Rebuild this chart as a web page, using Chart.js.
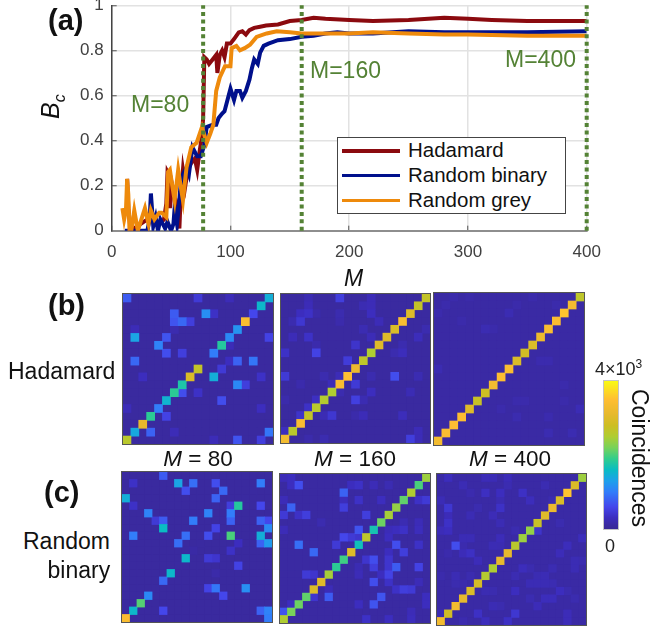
<!DOCTYPE html>
<html>
<head>
<meta charset="utf-8">
<title>Ghost imaging coincidences</title>
<script src="https://cdn.jsdelivr.net/npm/chart.js@4"></script>
<style>
  body { margin: 0; background: #fff; font-family: 'Liberation Sans', Arial, sans-serif; }
  #page { position: relative; width: 652px; height: 631px; overflow: hidden; }
  canvas { position: absolute; }
  .heat { outline: 1.5px solid #555; filter: blur(0.5px); }
  .txt { position: absolute; white-space: nowrap; line-height: 1; }
  .tag { font-weight: bold; font-size: 29px; color: #111; }
  .guide { font-size: 23px; color: #548235; }
  .side { font-size: 23px; color: #111; }
  .cap { font-size: 22.5px; color: #111; transform: translateX(-50%); }
  #legend { position: absolute; left: 337px; top: 137px; width: 229px; height: 77px; box-sizing: border-box;
    border: 1px solid #444; background: #fff; font-size: 20.5px; color: #111; padding-top: 0; }
  #legend div { height: 24.8px; line-height: 24.8px; position: relative; padding-left: 70px; }
  #legend i { position: absolute; left: 4px; top: 11px; width: 58px; height: 3.5px; }
</style>
</head>
<body>
<div id="page">
  <canvas id="lineChart" width="652" height="290" style="left:0;top:0;filter:blur(0.4px)"></canvas>

  <div class="txt tag" style="left:48px;top:6px">(a)</div>
  <div class="txt tag" style="left:48px;top:291px">(b)</div>
  <div class="txt tag" style="left:44px;top:478px">(c)</div>

  <div class="txt" style="left:38px;top:119px;font-size:25px;font-style:italic;color:#111;transform:rotate(-90deg);transform-origin:left top">B<sub style="font-size:16px">c</sub></div>
  <div class="txt" style="left:344px;top:267px;font-size:23px;font-style:italic;color:#111">M</div>

  <div class="txt guide" style="left:131px;top:93px">M=80</div>
  <div class="txt guide" style="left:310px;top:59px">M=160</div>
  <div class="txt guide" style="left:505px;top:48px">M=400</div>

  <div id="legend"></div>

  <div class="txt side" style="left:8px;top:360px">Hadamard</div>
  <div class="txt side" style="left:23px;top:530px">Random</div>
  <div class="txt side" style="left:47.5px;top:559px">binary</div>

  <div class="txt cap" style="left:198px;top:448px"><em>M</em> = 80</div>
  <div class="txt cap" style="left:355px;top:448px"><em>M</em> = 160</div>
  <div class="txt cap" style="left:510px;top:448px"><em>M</em> = 400</div>

  <div class="txt" style="left:595px;top:360px;font-size:18px;color:#222">4×10<sup style="font-size:12px;line-height:0">3</sup></div>
  <div class="txt" style="left:605px;top:537px;font-size:18px;color:#222">0</div>
  <div class="txt" style="left:651px;top:389px;font-size:23px;color:#111;transform:rotate(90deg);transform-origin:left top">Coincidences</div>
</div>

<script>
// (a) line chart
const xTicks = [0, 100, 200, 300, 400];
const yTicks = [0, 0.2, 0.4, 0.6, 0.8, 1];
const seriesNames = ['Hadamard', 'Random binary', 'Random grey'];
const seriesColors = ['#8b0a0f', '#00108c', '#ee8a0c'];
const guideM = [77, 160, 400];

const hadamardM  = [13, 14, 16, 30, 40, 44, 46, 47, 48, 49, 51, 53, 55, 57, 58, 60, 62, 64, 67, 70, 72, 74, 76, 77, 78, 80, 82, 85, 88, 89, 91, 93, 95, 97, 100, 103, 107, 110, 113, 116, 120, 125, 130, 140, 150, 160, 170, 180, 200, 220, 250, 280, 300, 320, 350, 400];
const hadamardBc = [0.23, 0.1, 0, 0.05, 0.03, 0.05, 0.12, 0.26, 0.25, 0.1, 0.2, 0.15, 0.12, 0.01, 0.14, 0.27, 0.2, 0.27, 0.3, 0.32, 0.27, 0.35, 0.42, 0.5, 0.77, 0.76, 0.74, 0.76, 0.78, 0.7, 0.78, 0.8, 0.77, 0.83, 0.83, 0.85, 0.88, 0.885, 0.87, 0.89, 0.9, 0.905, 0.91, 0.915, 0.93, 0.935, 0.945, 0.94, 0.935, 0.93, 0.935, 0.945, 0.94, 0.935, 0.93, 0.93];

const binaryM  = [11, 12, 20, 30, 32, 33, 35, 37, 39, 41, 43, 45, 47, 50, 52, 53, 55, 56, 58, 60, 63, 65, 68, 72, 75, 78, 80, 85, 88, 90, 93, 95, 97, 100, 103, 105, 108, 110, 113, 116, 118, 120, 123, 125, 128, 132, 140, 150, 160, 170, 180, 190, 200, 220, 250, 280, 300, 350, 400];
const binaryBc = [0, 0, 0, 0, 0.05, 0.165, 0.02, 0.06, 0, 0.05, 0.03, 0.01, 0.04, 0, 0.03, 0.1, 0.03, 0.08, 0.2, 0.25, 0.28, 0.25, 0.37, 0.33, 0.33, 0.38, 0.46, 0.47, 0.47, 0.5, 0.52, 0.53, 0.57, 0.63, 0.58, 0.62, 0.62, 0.59, 0.62, 0.67, 0.72, 0.76, 0.74, 0.79, 0.82, 0.83, 0.845, 0.85, 0.86, 0.865, 0.875, 0.88, 0.875, 0.875, 0.885, 0.88, 0.88, 0.88, 0.885];

const greyM  = [9, 10.5, 12, 13, 14, 15, 16.5, 19, 22, 25, 28, 31, 33, 36, 40, 42, 46, 47.5, 49, 51, 53, 56, 58, 60, 63, 67, 71.5, 76, 80, 83, 85.6, 88, 91, 95.4, 100, 101, 105, 108, 112, 116.5, 122, 130.5, 139, 150, 160, 180, 200, 220, 250, 280, 300, 350, 400];
const greyBc = [0.1, 0.05, 0.09, 0.23, 0.16, 0, 0, 0.09, 0, 0.05, 0.1, 0.03, 0.09, 0.05, 0.08, 0.08, 0.06, 0.26, 0.27, 0.2, 0.135, 0.27, 0.2, 0.135, 0.28, 0.37, 0.39, 0.46, 0.39, 0.43, 0.47, 0.62, 0.68, 0.73, 0.73, 0.81, 0.82, 0.8, 0.81, 0.825, 0.86, 0.875, 0.885, 0.88, 0.875, 0.875, 0.875, 0.88, 0.875, 0.87, 0.87, 0.865, 0.865];

// (b) Hadamard matrices, 19 x 19. Off lists are [col, row from top, counts]
const hadamard80Diag = [2600, 1400, 3100, 1850, 1000, 1500, 1850, 1750, 2950, 2700, 100, 1000, 1800, 1100, 1200, 3400, 600, 1550, 1450];
const hadamard80Off = [[0,0,750],[9,0,450],[13,0,250],[6,2,750],[10,2,1150],[11,2,350],[6,3,700],[7,3,850],[8,3,500],[1,4,250],[6,4,200],[1,5,1350],[5,5,700],[18,5,550],[4,6,1050],[13,6,250],[5,7,650],[7,7,500],[1,8,850],[13,8,300],[14,8,800],[16,8,950],[12,9,450],[2,10,300],[11,10,1450],[17,10,350],[14,11,1100],[15,11,500],[7,12,650],[9,12,350],[12,13,650],[0,14,250],[17,14,300],[5,15,550],[3,17,800],[6,17,250],[18,17,950],[11,18,250],[14,18,700],[17,18,500]];

const hadamard160Diag = [3300, 2600, 3400, 2700, 2600, 2550, 2500, 3400, 3500, 3200, 2650, 2500, 3000, 3000, 2950, 3400, 3000, 2700, 2700];
const hadamard160Off = [[7,0,500],[3,0,220],[11,0,250],[3,1,250],[10,1,220],[11,1,250],[2,2,300],[3,2,350],[11,2,300],[7,2,200],[4,2,160],[1,3,200],[2,3,420],[12,3,250],[7,3,180],[10,4,220],[18,4,200],[1,5,250],[3,5,350],[11,5,250],[17,5,270],[4,6,180],[9,6,380],[15,6,200],[0,7,350],[4,7,550],[15,7,280],[14,7,200],[8,8,480],[0,10,450],[5,10,200],[7,10,250],[11,10,200],[14,10,650],[17,10,220],[9,11,450],[2,11,180],[6,11,250],[11,12,300],[16,12,230],[7,12,200],[4,13,320],[9,13,520],[10,13,220],[0,13,170],[3,14,350],[2,15,380],[5,15,230],[6,15,420],[9,15,170],[10,15,250],[15,15,270],[0,17,300],[17,17,250],[3,18,170],[5,18,200],[16,18,500],[17,18,250]];

const hadamard400Diag = [3300, 3400, 3500, 3450, 3000, 2750, 2800, 3300, 3450, 3400, 2950, 2850, 2950, 3200, 3400, 3450, 3550, 3300, 2650];
const hadamard400Off = [[1,1,180],[2,0,170],[0,2,180],[3,3,170],[6,4,220],[9,2,220],[0,9,210],[18,14,240],[16,11,180],[10,13,180],[11,13,180],[14,15,190],[10,15,200],[8,14,180],[17,17,210],[14,17,210],[13,8,190],[14,8,190],[15,1,180],[12,0,170],[7,4,170],[4,0,160],[10,1,170],[16,13,170]];

// (c) Random binary matrices, 20 x 20
const binary80Diag = [3400, 1550, 2050, 1100, 100, 850, 1550, 100, 1550, 130, 100, 650, 550, 100, 1000, 1800, 100, 100, 1000, 100];
const binary80Off = [[5,0,750],[1,1,350],[7,1,1350],[9,1,900],[12,1,650],[8,2,650],[13,2,850],[0,3,1450],[12,3,800],[1,4,350],[14,4,500],[18,4,600],[3,5,1050],[11,5,1050],[4,6,450],[5,6,750],[9,6,1000],[14,6,800],[18,6,800],[19,6,600],[5,7,1600],[19,7,1100],[1,8,1000],[8,8,900],[14,8,2000],[18,8,1450],[7,9,900],[15,9,300],[18,9,800],[19,9,1250],[14,10,350],[11,11,450],[12,11,400],[15,12,550],[12,13,160],[11,15,550],[12,15,950],[16,15,1150],[13,16,600],[5,18,600],[18,18,800],[19,18,1050],[19,19,1000]];

const binary160Diag = [2500, 2200, 2150, 2100, 2950, 3000, 2450, 1850, 1950, 3000, 1650, 2650, 1700, 2150, 2450, 2350, 2100, 2500, 2000, 2400];
const binary160Off = [[0,0,250],[1,0,300],[1,1,300],[2,1,650],[9,1,300],[10,1,350],[12,1,250],[14,1,220],[8,2,800],[0,3,250],[8,3,280],[10,3,350],[13,3,300],[18,3,350],[19,3,450],[1,4,800],[8,4,500],[0,5,450],[2,5,350],[3,5,500],[11,5,500],[5,6,200],[18,6,250],[16,6,220],[0,7,250],[10,7,700],[15,7,300],[16,7,350],[18,7,280],[14,7,250],[8,8,600],[9,8,450],[10,8,400],[14,8,300],[2,9,900],[7,9,450],[15,9,650],[18,9,350],[4,10,850],[16,10,500],[14,10,300],[11,11,400],[12,11,650],[14,11,400],[12,12,500],[14,12,400],[15,12,750],[18,12,550],[10,12,220],[3,13,450],[4,13,400],[10,13,250],[13,13,300],[14,13,550],[12,14,650],[14,14,350],[18,14,250],[6,15,250],[15,15,350],[16,15,500],[17,15,450],[4,16,400],[6,16,750],[13,16,700],[19,16,300],[1,17,300],[10,17,300],[12,17,700],[19,17,300],[0,18,700],[17,18,250],[11,19,350],[14,19,300],[17,19,280]];

const binary400Diag = [3300, 2850, 3300, 3100, 2950, 2900, 2550, 2500, 3100, 3100, 2600, 2400, 2350, 2750, 3000, 3200, 2950, 3550, 2950, 2400];
const binary400Off = [[1,0,280],[6,0,250],[7,0,240],[9,0,250],[3,1,230],[9,1,210],[14,1,220],[6,2,320],[8,2,300],[11,2,340],[4,2,190],[0,3,240],[8,3,220],[12,3,280],[15,3,200],[1,4,420],[8,4,350],[5,4,200],[1,5,260],[4,5,230],[7,5,250],[1,6,350],[8,6,230],[16,6,200],[0,7,250],[1,7,300],[13,7,380],[10,7,200],[3,8,240],[4,8,240],[8,8,260],[19,8,270],[2,9,650],[3,9,190],[7,9,230],[8,9,220],[17,9,280],[3,10,260],[4,10,330],[16,10,260],[1,10,180],[5,11,260],[18,11,230],[19,11,200],[11,12,280],[12,12,200],[15,12,220],[18,12,230],[0,13,180],[2,13,230],[4,13,200],[10,13,220],[13,13,220],[14,13,240],[2,14,200],[3,14,180],[12,14,240],[13,14,240],[14,14,240],[15,14,220],[6,15,220],[7,15,200],[10,15,300],[16,15,300],[17,15,200],[12,16,210],[14,16,280],[15,16,280],[18,16,200],[7,17,230],[8,17,200],[13,17,260],[0,18,220],[5,18,340],[10,18,420],[17,18,260],[3,19,190],[6,19,280],[9,19,330],[17,19,260]];

// parula style colormap: [counts, r, g, b]
const colorStops = [[0,56,40,150],[100,58,42,160],[300,60,45,190],[600,68,70,235],[1000,50,125,250],[1300,30,160,235],[1600,10,188,195],[1900,50,205,140],[2200,120,210,90],[2500,175,205,50],[2800,205,190,35],[3100,230,185,45],[3500,255,190,50],[4000,249,250,20]];
const maxCounts = 4000;

function countsToColor(v) {
  for (let i = 1; i < colorStops.length; i++) {
    const a = colorStops[i - 1], b = colorStops[i];
    if (v <= b[0]) {
      const t = (v - a[0]) / (b[0] - a[0]);
      return `rgb(${a[1] + (b[1] - a[1]) * t},${a[2] + (b[2] - a[2]) * t},${a[3] + (b[3] - a[3]) * t})`;
    }
  }
  return 'rgb(249,250,20)';
}

function toPoints(xs, ys) {
  return xs.map((x, i) => ({ x, y: ys[i] }));
}

const pageFont = "'Liberation Sans', Arial, sans-serif";

const lineDatasets = [
  ...guideM.map(m => ({
    label: 'M=' + m,
    data: [{ x: m, y: 0 }, { x: m, y: 1 }],
    borderColor: '#548235',
    borderWidth: 4,
    borderDash: [4, 3.4],
    pointRadius: 0,
    clip: false,
    order: 0
  })),
  ...[[greyM, greyBc, 2, 1], [binaryM, binaryBc, 1, 2], [hadamardM, hadamardBc, 0, 3]].map(s => ({
    label: seriesNames[s[2]],
    data: toPoints(s[0], s[1]),
    borderColor: seriesColors[s[2]],
    borderWidth: 4,
    pointRadius: 0,
    order: s[3]
  }))
];

new Chart(document.getElementById('lineChart'), {
  type: 'line',
  data: { datasets: lineDatasets },
  options: {
    responsive: false,
    animation: false,
    layout: { padding: { top: 5.3, right: 65.3 }, autoPadding: false },
    plugins: { legend: { display: false }, tooltip: { enabled: false } },
    scales: {
      x: {
        type: 'linear', min: 0, max: 400,
        afterBuildTicks: s => { s.ticks = xTicks.map(value => ({ value })); },
        afterFit: s => { s.height = 59.3; s.paddingLeft = 0; s.paddingRight = 0; },
        grid: { color: '#e2e2e2', lineWidth: 1.5, tickLength: -5, tickColor: '#555', tickWidth: 1 },
        border: { color: '#8e8e8e', width: 2 },
        ticks: { color: '#404040', font: { family: pageFont, size: 17 }, padding: 16, maxRotation: 0, autoSkip: false }
      },
      y: {
        min: 0, max: 1,
        afterBuildTicks: s => { s.ticks = yTicks.map(value => ({ value })); },
        afterFit: s => { s.width = 111.7; s.paddingTop = 0; s.paddingBottom = 0; },
        grid: { color: '#e2e2e2', lineWidth: 1.5, tickLength: -5, tickColor: '#555', tickWidth: 1 },
        border: { color: '#444', width: 1.5 },
        ticks: { color: '#404040', font: { family: pageFont, size: 17 }, padding: 13, autoSkip: false, callback: v => String(v) }
      }
    }
  }
});

// legend box
const legendBox = document.getElementById('legend');
seriesNames.forEach((name, i) => {
  const row = document.createElement('div');
  row.innerHTML = `<i style="background:${seriesColors[i]}"></i>${name}`;
  legendBox.appendChild(row);
});

// heatmaps, one small scatter chart each
const panels = [
  { diag: hadamard80Diag,  off: hadamard80Off,  n: 19, base: 90,  left: 123.3, top: 293.7, w: 150,   h: 149.5 },
  { diag: hadamard160Diag, off: hadamard160Off, n: 19, base: 100, left: 280.7, top: 294.3, w: 148.6, h: 149 },
  { diag: hadamard400Diag, off: hadamard400Off, n: 19, base: 125, left: 434.3, top: 293.3, w: 150.4, h: 152 },
  { diag: binary80Diag,    off: binary80Off,    n: 20, base: 90,  left: 122.3, top: 472.3, w: 150,   h: 150.4 },
  { diag: binary160Diag,   off: binary160Off,   n: 20, base: 110, left: 279.7, top: 473.7, w: 150,   h: 149 },
  { diag: binary400Diag,   off: binary400Off,   n: 20, base: 130, left: 437.3, top: 473.7, w: 149,   h: 150.6 }
];

const page = document.getElementById('page');

panels.forEach(p => {
  const canvas = document.createElement('canvas');
  canvas.className = 'heat';
  canvas.width = Math.round(p.w);
  canvas.height = Math.round(p.h);
  canvas.style.left = p.left + 'px';
  canvas.style.top = p.top + 'px';
  canvas.style.background = countsToColor(p.base);
  page.insertBefore(canvas, page.firstChild);

  const grid = [];
  for (let r = 0; r < p.n; r++) grid.push(new Array(p.n).fill(p.base));
  p.diag.forEach((v, col) => { grid[p.n - 1 - col][col] = v; });
  p.off.forEach(c => { grid[c[1]][c[0]] = c[2]; });

  const cells = [];
  grid.forEach((rowVals, r) => rowVals.forEach((v, col) => {
    cells.push({ x: col + 0.5, y: r + 0.5, v });
  }));
  // brightest cells last so their edges stay on top
  cells.sort((a, b) => a.v - b.v);

  new Chart(canvas, {
    type: 'scatter',
    data: {
      datasets: [{
        data: cells,
        pointStyle: 'rect',
        pointRadius: (canvas.width / p.n + 0.8) / Math.SQRT2,
        borderWidth: 0,
        pointBorderWidth: 0,
        backgroundColor: ctx => countsToColor(ctx.raw.v)
      }]
    },
    options: {
      responsive: false,
      animation: false,
      layout: { padding: 0, autoPadding: false },
      plugins: { legend: { display: false }, tooltip: { enabled: false } },
      scales: {
        x: { display: false, min: 0, max: p.n },
        y: { display: false, min: 0, max: p.n, reverse: true }
      }
    }
  });
});

// colour bar
const barCanvas = document.createElement('canvas');
barCanvas.width = 14;
barCanvas.height = 148;
barCanvas.style.left = '604px';
barCanvas.style.top = '380.5px';
barCanvas.style.outline = '1px solid #c4c4c4';
page.insertBefore(barCanvas, page.firstChild);

new Chart(barCanvas, {
  type: 'bar',
  data: {
    labels: ['Coincidences'],
    datasets: [{
      data: [[0, maxCounts]],
      barPercentage: 1,
      categoryPercentage: 1,
      backgroundColor: ctx => {
        const area = ctx.chart.chartArea;
        if (!area) return '#3a2a9e';
        const g = ctx.chart.ctx.createLinearGradient(0, area.bottom, 0, area.top);
        colorStops.forEach(s => g.addColorStop(s[0] / maxCounts, `rgb(${s[1]},${s[2]},${s[3]})`));
        return g;
      }
    }]
  },
  options: {
    responsive: false,
    animation: false,
    layout: { autoPadding: false },
    plugins: { legend: { display: false }, tooltip: { enabled: false } },
    scales: {
      x: { display: false },
      y: { display: false, min: 0, max: maxCounts }
    }
  }
});
</script>
</body>
</html>
